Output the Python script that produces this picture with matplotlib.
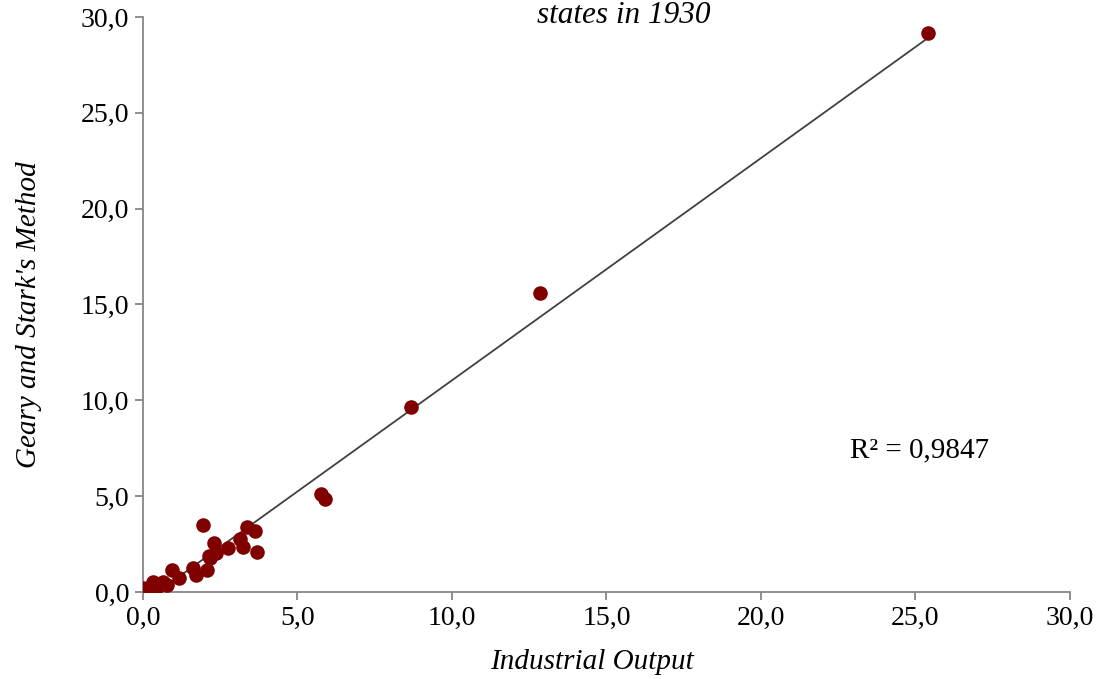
import numpy as np
import matplotlib
matplotlib.use('Agg')
import matplotlib.pyplot as plt
from matplotlib.ticker import FuncFormatter, MultipleLocator

# Industrial output vs. Geary and Stark's estimate
industrial_output = [25.4, 12.85, 8.67, 5.76, 5.89,
                     1.95, 3.36, 3.62, 2.31, 3.14, 3.25, 2.74, 3.68, 2.36, 2.14,
                     2.06, 2.17, 1.63, 1.72, 0.93, 1.17, 0.66, 0.77, 0.33, 0.46,
                     0.01, 0.23, 0.15, 0.40]
geary_stark = [29.16, 15.6, 9.65, 5.11, 4.85,
               3.5, 3.41, 3.2, 2.57, 2.75, 2.33, 2.31, 2.1, 2.02, 1.88,
               1.15, 1.76, 1.23, 0.89, 1.15, 0.75, 0.54, 0.37, 0.54, 0.25,
               0.19, 0.07, 0.12, 0.30]
r2_label = "R² = 0,9847"

plt.rcParams['font.family'] = ['Liberation Serif', 'DejaVu Serif']

fig = plt.figure(figsize=(11.04, 6.79), dpi=100)
ax = fig.add_axes([0.1295, 0.1281, 0.8397, 0.8469])

x = np.array(industrial_output)
y = np.array(geary_stark)
ax.scatter(x, y, s=110, color='#800000', zorder=3, linewidths=0)

# linear trend line over the data range
slope, intercept = np.polyfit(x, y, 1)
xs = np.array([x.min(), x.max()])
ax.plot(xs, slope * xs + intercept, color='#404040', lw=1.3, zorder=2)

ax.set_xlim(0, 30)
ax.set_ylim(0, 30)
ax.xaxis.set_major_locator(MultipleLocator(5))
ax.yaxis.set_major_locator(MultipleLocator(5))
comma = FuncFormatter(lambda v, p: f"{v:.1f}".replace('.', ','))
ax.xaxis.set_major_formatter(comma)
ax.yaxis.set_major_formatter(comma)

for side in ['top', 'right']:
    ax.spines[side].set_visible(False)
for side in ['left', 'bottom']:
    ax.spines[side].set_color('#868686')
    ax.spines[side].set_linewidth(1.3)
ax.tick_params(direction='out', length=6, width=1.3, color='#868686',
               labelsize=20, labelcolor='black', pad=4)

ax.set_xlabel("Industrial Output", fontsize=21, style='italic', labelpad=13)
ax.set_ylabel("Geary and Stark's Method", fontsize=21, style='italic', labelpad=28)
ax.xaxis.label.set_x(0.484)
ax.yaxis.label.set_y(0.482)

ax.text(0.763, 0.247, r2_label, transform=ax.transAxes, fontsize=21, va='center')
# title sits at the very top edge, as in the source
fig.text(0.565, 0.998, "states in 1930", fontsize=22.5, style='italic', ha='center', va='top')

fig.savefig('out.png', dpi=100)
